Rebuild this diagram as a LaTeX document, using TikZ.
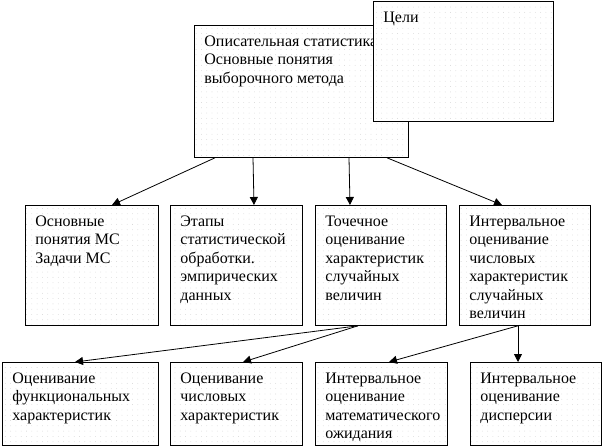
\documentclass[tikz,border=0pt]{standalone}
\usepackage{fontspec}
\setmainfont{Liberation Serif}
\usetikzlibrary{calc}
\usetikzlibrary{arrows.meta}
\usetikzlibrary{patterns}

\pgfdeclarepatternformonly{cellgrid}{\pgfqpoint{-1pt}{-1pt}}{\pgfqpoint{1pt}{1pt}}{\pgfqpoint{5.3pt}{5.3pt}}{\pgfpathcircle{\pgfpointorigin}{0.4pt}\pgfusepath{fill}}

\newcommand{\celltext}[3]{\parbox[c][#2pt][t]{\dimexpr#1pt-20pt\relax}{\raggedright\rule{0pt}{21pt}#3}}

\begin{document}
\begin{tikzpicture}[x=1pt, y=-1pt,
  cell/.style={draw, line width=0.8pt, preaction={fill=white}, pattern=cellgrid, pattern color=black!18,
    inner xsep=10pt, inner ysep=0pt, anchor=north west, font=\fontsize{16}{18.4}\selectfont},
  link/.style={line width=0.8pt, -{Triangle[length=8pt,width=8pt]}}]

\useasboundingbox (0,0) rectangle (602,447);

\node[cell] (main) at (194,25) {\celltext{214}{132}{Описательная~статистика\\Основные понятия\\выборочного метода}};
\node[cell] (aims) at (373,1) {\celltext{180}{120}{Цели}};

\node[cell] (c1) at (25,205) {\celltext{133}{120}{Основные\\понятия МС\\Задачи МС}};
\node[cell] (c2) at (170,205) {\celltext{132}{120}{Этапы\\статистической\\обработки.\\эмпирических\\данных}};
\node[cell] (c3) at (315,205) {\celltext{131}{120}{Точечное\\оценивание\\характеристик\\случайных\\величин}};
\node[cell] (c4) at (459,205) {\celltext{131}{120}{Интервальное\\оценивание\\числовых\\характеристик\\случайных\\величин}};

\node[cell] (d1) at (2,362) {\celltext{156}{83}{Оценивание\\функциональных\\характеристик}};
\node[cell] (d2) at (170,362) {\celltext{132}{83}{Оценивание\\числовых\\характеристик}};
\node[cell] (d3) at (315,362) {\celltext{132}{83}{Интервальное\\оценивание\\математического\\ожидания}};
\node[cell] (d4) at (470,362) {\celltext{131}{83}{Интервальное\\оценивание\\дисперсии}};

\foreach \a/\sa/\b/\sb in {main/21/c1/87, main/59/c2/84, main/155/c3/35, main/193/c4/43,
                           c3/43/d1/73, c3/43/d2/73, c4/59/d3/74, c4/59/d4/48} {
  \draw[link] ([xshift=\sa pt]\a.south west) -- ([xshift=\sb pt]\b.north west);
};

\end{tikzpicture}
\end{document}
